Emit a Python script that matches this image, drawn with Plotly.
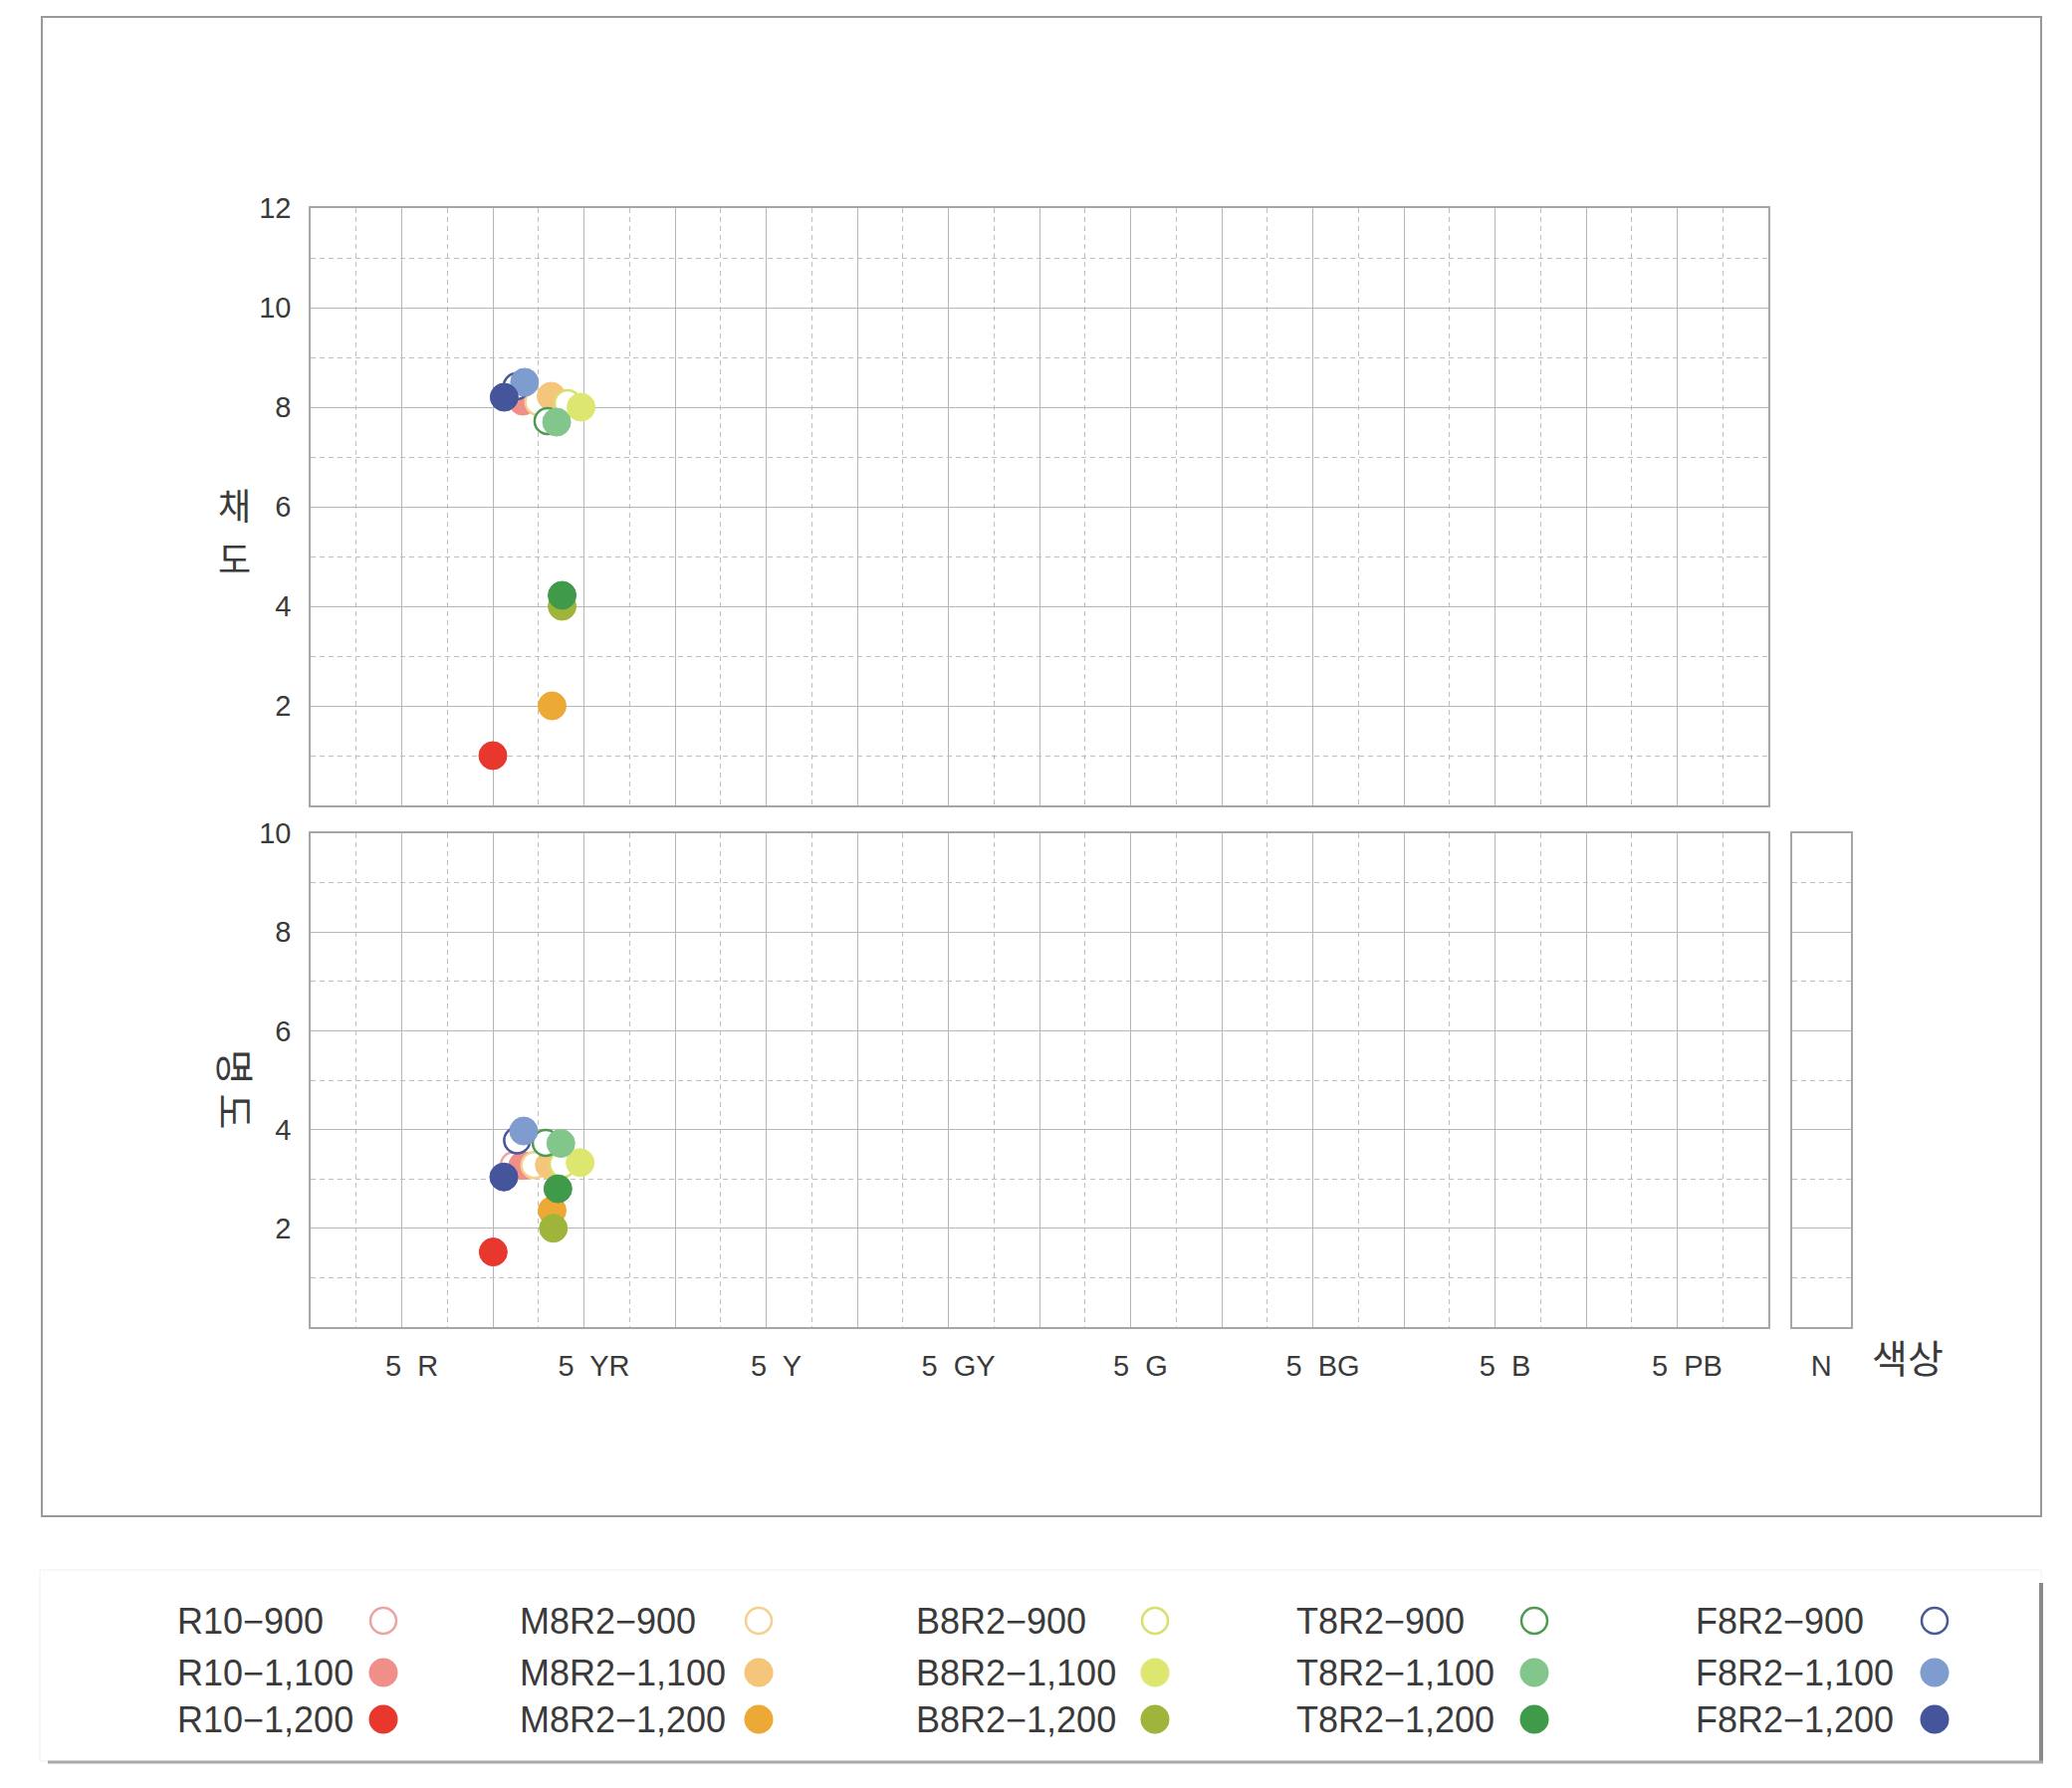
import plotly.graph_objects as go

W, H = 2081, 1796

# ---------------- data ----------------
series_names = ["R10−900", "R10−1,100", "R10−1,200",
                "M8R2−900", "M8R2−1,100", "M8R2−1,200",
                "B8R2−900", "B8R2−1,100", "B8R2−1,200",
                "T8R2−900", "T8R2−1,100", "T8R2−1,200",
                "F8R2−900", "F8R2−1,100", "F8R2−1,200"]
series_colors = ["#eba3a3", "#f08e88", "#e8372d",
                 "#f5d08e", "#f6c57c", "#eda935",
                 "#d6e06a", "#dde66f", "#9fb43a",
                 "#4e9a52", "#82c68b", "#3f9a49",
                 "#4b5896", "#7f9ccf", "#44559c"]
series_open = [True, False, False] * 5

# hue (x) and chroma for the upper panel
hue_top = [11.1, 11.64, 10.0, 12.5, 13.2, 13.25, 14.1, 14.84, 13.8,
           13.0, 13.5, 13.8, 11.3, 11.74, 10.62]
chroma = [8.25, 8.12, 1.0, 8.1, 8.22, 2.0, 8.08, 8.0, 4.0,
          7.72, 7.7, 4.22, 8.42, 8.5, 8.2]
# hue (x) and value for the lower panel
hue_bottom = [11.15, 11.64, 10.02, 12.28, 13.1, 13.25, 13.83, 14.79, 13.32,
              12.9, 13.73, 13.57, 11.33, 11.69, 10.6]
value = [3.28, 3.27, 1.52, 3.28, 3.28, 2.36, 3.3, 3.33, 2.0,
         3.73, 3.72, 2.8, 3.78, 3.97, 3.04]

hue_tick_vals = [0, 5, 10, 15, 20, 25, 30, 35, 40, 45, 50, 55, 60, 65, 70, 75, 80]
hue_tick_text = ["", "5  R", "", "5  YR", "", "5  Y", "", "5  GY", "",
                 "5  G", "", "5  BG", "", "5  B", "", "5  PB", ""]
chroma_ticks = [0, 2, 4, 6, 8, 10, 12]
chroma_text = ["", "2", "4", "6", "8", "10", "12"]
value_ticks = [0, 2, 4, 6, 8, 10]
value_text = ["", "2", "4", "6", "8", "10"]

# ---------------- layout helpers ----------------
def px(x):
    return x / W

def py(y):
    return 1 - y / H

FONT = "Liberation Sans, Arial, Noto Sans CJK KR, sans-serif"
KFONT = "Noto Sans CJK KR, sans-serif"
TXT = "#3a3a3a"
GRID = "#b6b6b6"
MINOR = "#bfbfbf"
FRAME = "#a6a6a6"
DASH = "5px,4px"

fig = go.Figure()

def marker_style(i):
    col = series_colors[i]
    if series_open[i]:
        return dict(size=26, color="white", line=dict(color=col, width=2.5))
    return dict(size=28, color=col, line=dict(color=col, width=1))

for i, name in enumerate(series_names):
    fig.add_trace(go.Scatter(x=[hue_top[i]], y=[chroma[i]], mode="markers",
                             marker=marker_style(i), name=name, showlegend=False,
                             xaxis="x", yaxis="y"))
for i, name in enumerate(series_names):
    fig.add_trace(go.Scatter(x=[hue_bottom[i]], y=[value[i]], mode="markers",
                             marker=marker_style(i), name=name, showlegend=False,
                             xaxis="x2", yaxis="y2"))

# empty trace so the N panel axes render
fig.add_trace(go.Scatter(x=[None], y=[None], xaxis="x3", yaxis="y3",
                         showlegend=False, mode="markers"))

x_dom = [px(312), px(1776)]
top_dom = [py(809), py(209)]
bot_dom = [py(1333), py(837)]
n_dom = [px(1799.5), px(1859)]

common_x = dict(range=[0, 80], tickmode="array", tickvals=hue_tick_vals,
                showgrid=True, gridcolor=GRID, gridwidth=1,
                minor=dict(tickmode="linear", tick0=0, dtick=2.5, showgrid=True,
                           gridcolor=MINOR, griddash=DASH, gridwidth=1),
                showline=True, mirror=True, linecolor=FRAME, linewidth=1.5,
                zeroline=False, fixedrange=True)

def y_axis(dom, anchor, rng, tv, tt, labels=True):
    d = dict(domain=dom, anchor=anchor, range=rng, tickmode="array",
             tickvals=tv, showgrid=True, gridcolor=GRID,
             minor=dict(tickmode="linear", tick0=0, dtick=1, showgrid=True,
                        gridcolor=MINOR, griddash=DASH),
             showline=True, mirror=True, linecolor=FRAME, linewidth=1.5,
             zeroline=False, fixedrange=True)
    if labels:
        d.update(ticktext=tt, ticklabelstandoff=12,
                 tickfont=dict(size=29, color=TXT))
    else:
        d.update(showticklabels=False)
    return d

fig.update_layout(
    width=W, height=H, autosize=False,
    margin=dict(l=0, r=0, t=0, b=0, pad=0, autoexpand=False),
    paper_bgcolor="white", plot_bgcolor="white",
    font=dict(family=FONT, color=TXT, size=29),
    showlegend=False,
    xaxis=dict(domain=x_dom, anchor="y", showticklabels=False, **common_x),
    yaxis=y_axis(top_dom, "x", [0, 12], chroma_ticks, chroma_text),
    xaxis2=dict(domain=x_dom, anchor="y2", ticktext=hue_tick_text,
                ticklabelstandoff=12, ticklabelshift=10,
                tickfont=dict(size=29, color=TXT), **common_x),
    yaxis2=y_axis(bot_dom, "x2", [0, 10], value_ticks, value_text),
    xaxis3=dict(domain=n_dom, anchor="y3", range=[0, 1], tickmode="array",
                tickvals=[0.5], ticktext=["N"], showgrid=False,
                showline=True, mirror=True, linecolor=FRAME, linewidth=1.5,
                zeroline=False, ticklabelstandoff=12, fixedrange=True,
                tickfont=dict(size=29, color=TXT)),
    yaxis3=y_axis(bot_dom, "x3", [0, 10], value_ticks, None, labels=False),
)

shapes = []
annotations = []

# outer frame
shapes.append(dict(type="rect", xref="paper", yref="paper",
                   x0=px(42), x1=px(2050), y0=py(1523), y1=py(17),
                   line=dict(color="#999999", width=2), layer="below"))
# legend box with shadow
shapes.append(dict(type="rect", xref="paper", yref="paper",
                   x0=px(40), x1=px(2050), y0=py(1769), y1=py(1577),
                   line=dict(color="#f0f0f0", width=1), layer="below"))
shapes.append(dict(type="line", xref="paper", yref="paper",
                   x0=px(2050), x1=px(2050), y0=py(1590), y1=py(1770),
                   line=dict(color="#8a8a8a", width=4)))
shapes.append(dict(type="line", xref="paper", yref="paper",
                   x0=px(48), x1=px(2052), y0=py(1770), y1=py(1770),
                   line=dict(color="#a9a9a9", width=3)))

# axis titles
kfont = dict(family=KFONT, size=39, color=TXT)
kfont_stack = dict(family=KFONT, size=36, color=TXT)
annotations.append(dict(text="채", xref="paper", yref="paper",
                        x=px(235), y=py(506), showarrow=False,
                        xanchor="center", yanchor="middle", font=kfont_stack))
annotations.append(dict(text="도", xref="paper", yref="paper",
                        x=px(235), y=py(560), showarrow=False,
                        xanchor="center", yanchor="middle", font=kfont_stack))
annotations.append(dict(text="명 도", xref="paper", yref="paper",
                        x=px(238), y=py(1094), showarrow=False, textangle=90,
                        xanchor="center", yanchor="middle", font=kfont))
annotations.append(dict(text="색상", xref="paper", yref="paper",
                        x=px(1916), y=py(1362), showarrow=False,
                        xanchor="center", yanchor="middle", font=kfont))

# custom legend: 5 columns x 3 rows, text left / marker right
col_text_x = [176, 520, 918, 1300, 1701]
col_mark_x = [385, 762, 1160, 1541, 1943]
row_y = [1628, 1680, 1727]
for i, name in enumerate(series_names):
    c, r = divmod(i, 3)
    annotations.append(dict(text=name, xref="paper", yref="paper",
                            x=px(col_text_x[c]), y=py(row_y[r]), showarrow=False,
                            xanchor="left", yanchor="middle",
                            font=dict(family=FONT, size=36, color=TXT)))
    col = series_colors[i]
    if series_open[i]:
        fill, lw, rr = "white", 2.5, 13
    else:
        fill, lw, rr = col, 0, 14.5
    shapes.append(dict(type="circle", xref="paper", yref="paper",
                       xsizemode="pixel", ysizemode="pixel",
                       xanchor=px(col_mark_x[c]), yanchor=py(row_y[r]),
                       x0=-rr, x1=rr, y0=-rr, y1=rr,
                       fillcolor=fill, line=dict(color=col, width=lw)))

fig.update_layout(shapes=shapes, annotations=annotations)

fig.write_html("out.html")
